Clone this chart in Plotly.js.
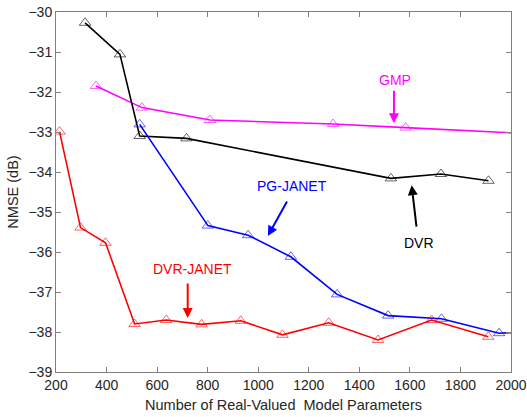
<!DOCTYPE html>
<html><head><meta charset="utf-8">
<script src="https://cdn.plot.ly/plotly-3.0.1.min.js"></script>
<style>html,body{margin:0;padding:0;background:#fff}#c{width:527px;height:417px}</style>
</head><body><div id="c"></div>
<script>
const dvrX = [315, 453, 531, 716, 1525, 1723, 1911];
const dvrY = [-30.27, -31.06, -33.1, -33.16, -34.16, -34.05, -34.22];
const gmpX = [358, 540, 809, 1296, 1583, 2250];
const gmpY = [-31.85, -32.39, -32.7, -32.8, -32.89, -33.1];
const pgX = [531, 801, 960, 1129, 1312, 1514, 1725, 1953, 2150];
const pgY = [-32.81, -35.34, -35.58, -36.12, -37.06, -37.59, -37.67, -38.03, -37.97];
const djX = [214, 297, 396, 511, 636, 776, 931, 1096, 1279, 1474, 1686, 1910];
const djY = [-32.99, -35.39, -35.77, -37.8, -37.7, -37.81, -37.72, -38.07, -37.77, -38.2, -37.7, -38.12];
const xTicks = [200, 400, 600, 800, 1000, 1200, 1400, 1600, 1800, 2000];
const yTicks = [-39, -38, -37, -36, -35, -34, -33, -32, -31, -30];

function tr(x, y, c, mc) {
  return {x: x, y: y, mode: 'lines+markers', type: 'scatter',
    line: {color: c, width: 1.6},
    marker: {symbol: 'triangle-up-open', size: 10, color: mc, line: {width: 1}},
    cliponaxis: true, showlegend: false};
}
const data = [
  tr(gmpX, gmpY, '#ff00ff', 'rgba(255,0,255,0.6)'),
  tr(dvrX, dvrY, '#000000', 'rgba(0,0,0,0.6)'),
  tr(pgX, pgY, '#0000ff', 'rgba(0,0,255,0.6)'),
  tr(djX, djY, '#ff0000', 'rgba(255,0,0,0.6)')
];
const F = {family: 'Liberation Sans, Arial, sans-serif', size: 14};
function lab(x, y, t, c) { return {x: x, y: y, text: t, showarrow: false, font: Object.assign({}, F, {color: c, size: 14}), xanchor: 'center', yanchor: 'middle'}; }
function arr(x, y, ax, ay, c) { return {x: x, y: y, ax: ax, ay: ay, text: '', showarrow: true, arrowhead: 2, arrowsize: 1, arrowwidth: 2, arrowcolor: c}; }
const layout = {
  width: 527, height: 417,
  margin: {l: 56, r: 16, t: 12, b: 45},
  paper_bgcolor: '#fff', plot_bgcolor: '#fff',
  font: Object.assign({}, F, {color: '#262626'}),
  xaxis: {range: [200, 2000], tickvals: xTicks, ticks: 'inside', ticklen: 5, tickcolor: '#808080',
    showline: true, linecolor: '#808080', linewidth: 1, mirror: 'ticks', showgrid: false, zeroline: false,
    tickfont: {size: 14, color: '#262626'},
    title: {text: 'Number of Real-Valued  Model Parameters', font: {size: 14.5, color: '#262626'}, standoff: 8}},
  yaxis: {range: [-39, -30], tickvals: yTicks, ticks: 'inside', ticklen: 5, tickcolor: '#808080',
    showline: true, linecolor: '#808080', linewidth: 1, mirror: 'ticks', showgrid: false, zeroline: false,
    tickfont: {size: 14, color: '#262626'},
    title: {text: 'NMSE (dB)', font: {size: 14.5, color: '#262626'}, standoff: 6}},
  annotations: [
    lab(1540, -31.7, 'GMP', '#ff00ff'),
    arr(1537, -32.78, 0, -34, '#ff00ff'),
    lab(1133, -34.35, 'PG-JANET', '#0000ff'),
    arr(1038, -35.6, 20, -36, '#0000ff'),
    lab(1635, -35.78, 'DVR', '#000000'),
    arr(1607, -34.33, 5, 43, '#000000'),
    lab(741, -36.43, 'DVR-JANET', '#ff0000'),
    arr(721, -37.65, 0, -36, '#ff0000')
  ]
};
Plotly.newPlot('c', data, layout, {displayModeBar: false, staticPlot: true});
</script></body></html>
